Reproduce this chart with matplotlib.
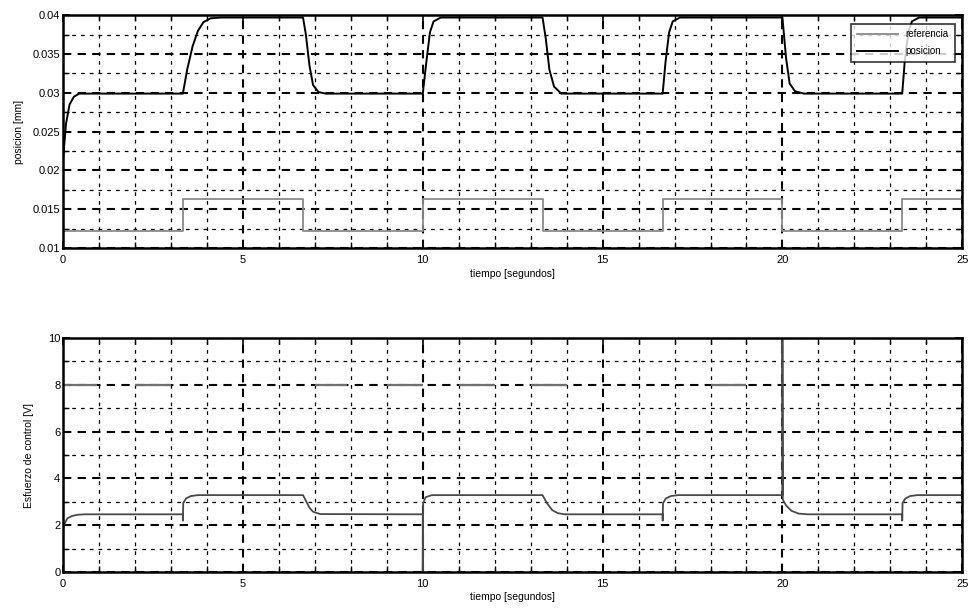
import numpy as np
import matplotlib
matplotlib.use("Agg")
import matplotlib.pyplot as plt
from matplotlib.ticker import MultipleLocator

plt.rcParams['font.family'] = ['Liberation Sans', 'DejaVu Sans']

# --- data ---
# reference (staircase, drawn in gray)
ref_t = [0, 3.33, 6.67, 10.0, 13.33, 16.67, 20.0, 23.33, 25.0]
ref_y = [0.0122, 0.0163, 0.0122, 0.0163, 0.0122, 0.0163, 0.0122, 0.0163, 0.0163]

# position [mm]
pos_t = [0, 0.08, 0.18, 0.3, 0.45, 0.6,
         3.33, 3.45, 3.6, 3.75, 3.9, 4.1, 4.4,
         6.67, 6.75, 6.85, 6.95, 7.1, 7.3,
         10.0, 10.1, 10.2, 10.3, 10.5,
         13.33, 13.42, 13.52, 13.65, 13.85,
         16.67, 16.75, 16.85, 16.95, 17.15,
         20.0, 20.1, 20.2, 20.35, 20.6,
         23.33, 23.4, 23.5, 23.6, 23.8, 25.0]
pos_y = [0.0215, 0.026, 0.0285, 0.0295, 0.0299, 0.0299,
         0.0299, 0.033, 0.036, 0.038, 0.0391, 0.0396, 0.0397,
         0.0397, 0.0375, 0.0335, 0.031, 0.0301, 0.0299,
         0.0299, 0.034, 0.0378, 0.0392, 0.0397,
         0.0397, 0.037, 0.033, 0.0308, 0.0299,
         0.0299, 0.034, 0.0378, 0.0392, 0.0397,
         0.0397, 0.0345, 0.0312, 0.0302, 0.0299,
         0.0299, 0.034, 0.0378, 0.0392, 0.0397, 0.0397]

# control effort [V]
u_t = [0, 0, 0.05, 0.12, 0.25, 0.4, 0.6,
       3.33, 3.33, 3.34, 3.42, 3.55, 3.75,
       6.67, 6.75, 6.85, 6.95, 7.15,
       10.0, 10.0, 10.01, 10.08, 10.25,
       13.33, 13.45, 13.6, 13.75, 13.95,
       16.67, 16.67, 16.68, 16.76, 16.9, 17.1,
       20.0, 20.0, 20.01, 20.1, 20.25, 20.45, 20.7,
       23.33, 23.33, 23.34, 23.42, 23.55, 23.75, 25.0]
u_y = [0, 1.9, 2.1, 2.3, 2.4, 2.45, 2.47,
       2.47, 2.2, 2.95, 3.15, 3.25, 3.29,
       3.29, 3.05, 2.75, 2.58, 2.48,
       2.47, 0.0, 2.95, 3.2, 3.29,
       3.29, 2.95, 2.65, 2.52, 2.47,
       2.47, 2.2, 2.95, 3.15, 3.25, 3.29,
       3.29, 10.0, 3.1, 2.85, 2.62, 2.5, 2.47,
       2.47, 2.2, 2.95, 3.15, 3.25, 3.29, 3.29]

# short gray pieces along the 8 V line
seg8_start = [0, 2, 7, 9, 11, 13, 18]
seg8_end = [0.95, 3, 7.9, 10, 12, 14, 19]

fig = plt.figure(figsize=(9.71, 6.08), dpi=100)
ax1 = fig.add_axes([0.065, 0.592, 0.926, 0.383])
ax2 = fig.add_axes([0.065, 0.059, 0.926, 0.385])


def style_axes(ax):
    ax.set_xlim(0, 25)
    ax.xaxis.set_major_locator(MultipleLocator(5))
    ax.xaxis.set_minor_locator(MultipleLocator(1))
    ax.grid(True, which='major', color='black', linestyle=(0, (4, 3)), linewidth=1.5)
    ax.grid(True, which='minor', color='black', linestyle=(0, (3, 4)), linewidth=0.9)
    ax.tick_params(which='both', direction='in', top=True, right=True,
                   labelsize=8, pad=2)
    ax.tick_params(axis='x', which='major', pad=5)
    ax.tick_params(which='major', length=5, width=1.2)
    ax.tick_params(which='minor', length=4, width=1.0)
    for s in ax.spines.values():
        s.set_linewidth(1.8)
    ax.set_axisbelow(True)


ax1.step(ref_t, ref_y, where='post', color='#8a8a8a', linewidth=1.3, label='referencia')
ax1.plot(pos_t, pos_y, color='black', linewidth=1.4, label='posicion')
ax1.set_ylim(0.01, 0.04)
ax1.yaxis.set_major_locator(MultipleLocator(0.005))
ax1.yaxis.set_minor_locator(MultipleLocator(0.0025))
ax1.yaxis.set_major_formatter(lambda v, p: ('%g' % round(v, 4)))
style_axes(ax1)
ax1.set_xlabel('tiempo [segundos]', fontsize=7.5, labelpad=3)
ax1.set_ylabel('posicion [mm]', fontsize=7.5, labelpad=6)
leg = ax1.legend(loc='upper right', bbox_to_anchor=(0.997, 0.985), fontsize=7,
                 frameon=True, fancybox=False, handlelength=4.2, borderpad=0.6,
                 labelspacing=0.7)
leg.get_frame().set_edgecolor('black')
leg.get_frame().set_linewidth(1.2)

ax2.hlines([8] * len(seg8_start), seg8_start, seg8_end, color='#707070', linewidth=1.6)
ax2.plot(u_t, u_y, color='#4a4a4a', linewidth=1.3)
ax2.set_ylim(0, 10)
ax2.yaxis.set_major_locator(MultipleLocator(2))
ax2.yaxis.set_minor_locator(MultipleLocator(1))
style_axes(ax2)
ax2.set_xlabel('tiempo [segundos]', fontsize=7.5, labelpad=2)
ax2.set_ylabel('Esfuerzo de control [V]', fontsize=7.5, labelpad=10)

fig.savefig('out.png', dpi=100)
